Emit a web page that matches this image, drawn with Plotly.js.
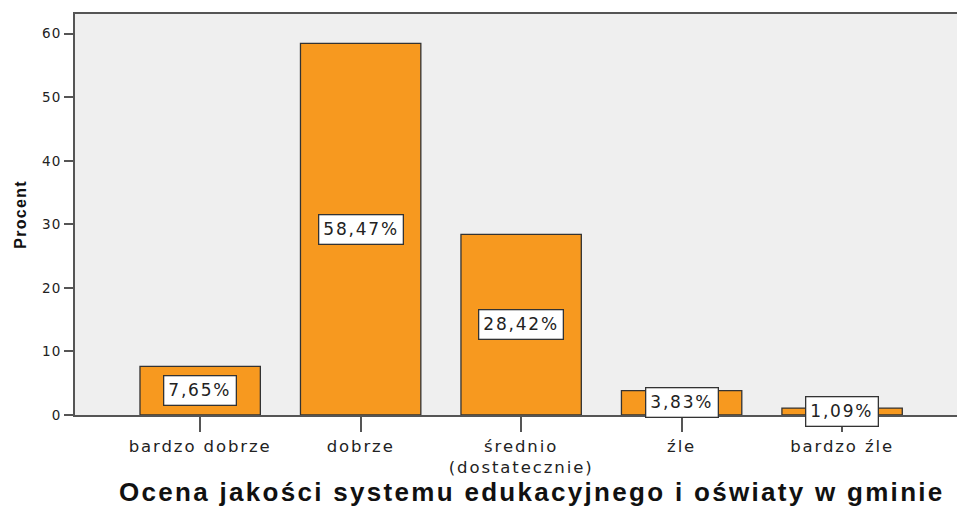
<!DOCTYPE html>
<html><head><meta charset="utf-8">
<script src="https://cdn.plot.ly/plotly-3.0.1.min.js"></script>
<style>
body{margin:0;background:#fff}
#chart{width:957px;height:510px}
.xtick text{letter-spacing:1.9px}
.ytick text{letter-spacing:1px}
.annotation-text{letter-spacing:1.8px}
.ytitle{letter-spacing:1.3px}
</style>
</head><body><div id="chart"></div>
<script>
const categories = ["bardzo dobrze", "dobrze", "średnio<br>(dostatecznie)", "źle", "bardzo źle"];
const percents = [7.65, 58.47, 28.42, 3.83, 1.09];
const labels = ["7,65%", "58,47%", "28,42%", "3,83%", "1,09%"];
const yTicks = [0, 10, 20, 30, 40, 50, 60];
const xTitle = 'Ocena jakości systemu edukacyjnego i oświaty w gminie';

const idx = categories.map((c, i) => i);
const trace = {
  type: 'bar',
  x: idx,
  y: percents,
  width: 0.75,
  marker: {color: '#F7991F', line: {color: '#333333', width: 1.3}},
  hoverinfo: 'skip'
};
const annotations = percents.map((v, i) => ({
  x: i, y: v / 2, xref: 'x', yref: 'y', text: labels[i], showarrow: false,
  bgcolor: '#ffffff', bordercolor: '#333333', borderwidth: 1.3, borderpad: 4,
  font: {family: 'DejaVu Sans, sans-serif', size: 17, color: '#222'}
}));
annotations.push({
  xref: 'paper', yref: 'paper', x: 0.518, y: -0.192, xanchor: 'center', yanchor: 'middle',
  text: '<span style="letter-spacing:2.3px">' + xTitle + '</span>', showarrow: false,
  font: {family: 'Liberation Sans, Arial, sans-serif', size: 26, color: '#111', weight: 'bold'}
});
const layout = {
  width: 957, height: 510,
  margin: {l: 75, r: 0, t: 14, b: 95},
  paper_bgcolor: '#ffffff', plot_bgcolor: '#efefef',
  showlegend: false,
  xaxis: {
    range: [-0.78, 4.716], tickmode: 'array', tickvals: idx, ticktext: categories,
    showline: true, mirror: true, linecolor: '#555', linewidth: 2,
    ticks: 'outside', ticklen: 15, tickwidth: 2, tickcolor: '#555',
    showgrid: false, zeroline: false,
    tickfont: {family: 'DejaVu Sans, sans-serif', size: 16.5, color: '#222'}
  },
  yaxis: {
    range: [0, 63.1], tickvals: yTicks,
    showline: true, linecolor: '#555', linewidth: 2,
    ticks: 'outside', ticklen: 9, tickwidth: 2, tickcolor: '#555',
    showgrid: false, zeroline: false,
    tickfont: {family: 'DejaVu Sans, sans-serif', size: 13.5, color: '#222'},
    title: {text: '<b>Procent</b>', standoff: 12,
      font: {family: 'Liberation Sans, Arial, sans-serif', size: 16, color: '#111'}}
  },
  annotations: annotations
};
Plotly.newPlot('chart', [trace], layout, {displayModeBar: false, staticPlot: true});
</script></body></html>
